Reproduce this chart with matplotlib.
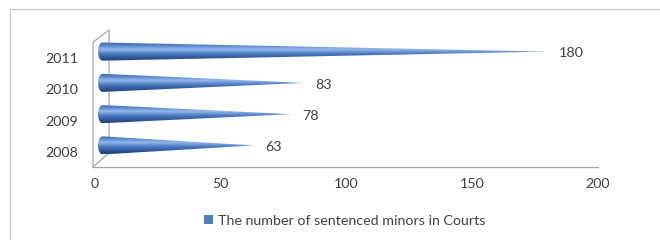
import numpy as np
import matplotlib
matplotlib.use("Agg")
import matplotlib.pyplot as plt
from matplotlib.patches import Polygon, Rectangle
from matplotlib.colors import LinearSegmentedColormap
from matplotlib.lines import Line2D

years = ["2008", "2009", "2010", "2011"]
values = [63, 78, 83, 180]
xticks = [0, 50, 100, 150, 200]
legend_label = "The number of sentenced minors in Courts"

plt.rcParams['font.family'] = ['Lato', 'DejaVu Sans']
txt = '#404040'
fs = 10.3

fig = plt.figure(figsize=(6.6, 2.4), dpi=100)
ax = fig.add_axes([95/660, (240-167)/240, 503/660, 137/240])
ax.set_xlim(0, 200)
ax.set_ylim(-0.48, 3.90)
for s in ax.spines.values():
    s.set_visible(False)
ax.set_xticks(xticks)
ax.set_xticklabels([str(t) for t in xticks])
ax.set_yticks(range(len(years)))
ax.set_yticklabels(years)
ax.tick_params(axis='y', length=0, pad=12, labelsize=fs, labelcolor=txt)
ax.tick_params(axis='x', length=0, pad=8, labelsize=fs, labelcolor=txt)

wall = '#a6a6a6'
ax.plot([-0.8, -0.8, 5.6, 5.6], [-0.48, 3.51, 3.90, -0.03], color=wall, lw=0.9, clip_on=False)
ax.plot([-0.8, 5.6], [-0.48, -0.03], color=wall, lw=0.9, clip_on=False)
ax.plot([-0.8, 200], [-0.48, -0.48], color=wall, lw=0.9, clip_on=False)

cmap = LinearSegmentedColormap.from_list('cone', [
    (0.0, '#1f3f78'), (0.35, '#4372b8'), (0.62, '#92b7ec'), (0.85, '#4f7fc6'), (1.0, '#3a68ad')])
grad = np.linspace(0, 1, 64).reshape(-1, 1)

dy = 0.21
h = 0.29
x0 = 3.0
ew = 1.8
for i, v in enumerate(values):
    yc = i + dy
    t = np.linspace(np.pi/2, 3*np.pi/2, 30)
    ell = np.column_stack([x0 + ew*np.cos(t), yc + h*np.sin(t)])
    pts = np.vstack([[[v, yc]], [[x0, yc + h]], ell, [[x0, yc - h]]])
    poly = Polygon(pts, closed=True, facecolor='none', edgecolor='none')
    ax.add_patch(poly)
    im = ax.imshow(grad, cmap=cmap, aspect='auto', origin='lower',
                   extent=[x0 - ew, v, yc - h, yc + h], interpolation='bilinear', zorder=2)
    im.set_clip_path(poly)
    ax.text(v + 4.5, yc - 0.06, str(v), ha='left', va='center', fontsize=fs, color=txt)

ax.set_xlim(0, 200)
ax.set_ylim(-0.48, 3.90)

fig.add_artist(Line2D([10/660, 10/660], [0, 1-9/240], color='#cccccc', lw=0.9))
fig.add_artist(Line2D([10/660, 1], [1-9/240, 1-9/240], color='#cccccc', lw=0.9))

handle = Rectangle((0, 0), 1, 1, facecolor='#4f81bd', edgecolor='none')
fig.legend([handle], [legend_label], loc='center', bbox_to_anchor=(345/660, 1-221/240),
           frameon=False, handlelength=0.6, handleheight=0.6, handletextpad=0.4,
           prop={'size': fs}, labelcolor=txt)

fig.savefig('out.png', dpi=100)
